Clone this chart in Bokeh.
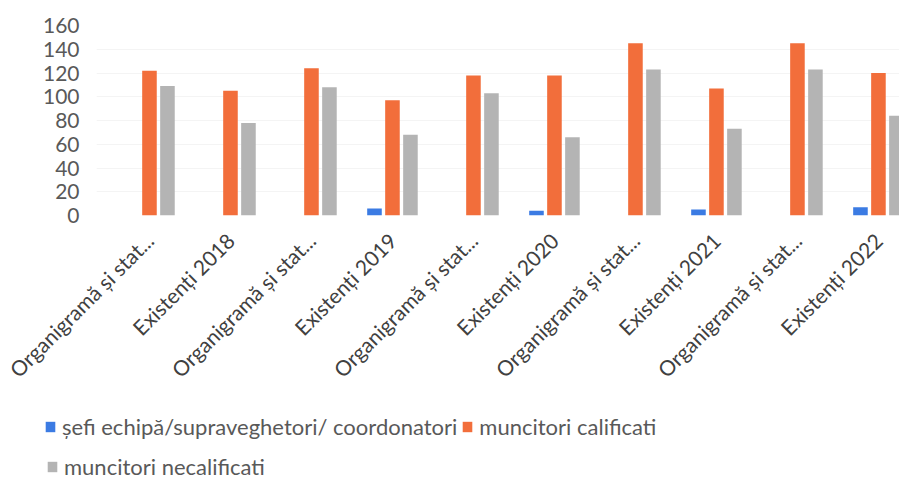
import numpy as np
from bokeh.plotting import figure
from bokeh.layouts import column
from bokeh.models import Range1d, FixedTicker, Legend, LegendItem
from bokeh.embed import file_html
from bokeh.resources import INLINE

# ---- data ----
labels = ["Organigramă și stat...", "Existenți 2018",
          "Organigramă și stat...", "Existenți 2019",
          "Organigramă și stat...", "Existenți 2020",
          "Organigramă și stat...", "Existenți 2021",
          "Organigramă și stat...", "Existenți 2022"]
sefi = [0, 0, 0, 6, 0, 4, 0, 5, 0, 7]
calificati = [122, 105, 124, 97, 118, 118, 145, 107, 145, 120]
necalificati = [109, 78, 108, 68, 103, 66, 123, 73, 123, 84]
series_names = ["șefi echipă/supraveghetori/ coordonatori",
                "muncitori calificati",
                "muncitori necalificati"]
y_ticks = [0, 20, 40, 60, 80, 100, 120, 140, 160]

colors = ["#3b7be3", "#f26e3b", "#b4b4b4"]
x = np.arange(len(labels))

p = figure(width=899, height=405, output_backend="svg", toolbar_location=None,
           x_range=Range1d(-0.654, 9.26), y_range=Range1d(0, 160),
           min_border_top=25, min_border_left=96, min_border_right=0,
           min_border_bottom=190)
p.frame_align = False

bw = 0.18
off = 0.222
p.vbar(x=x - off, top=sefi, width=bw, fill_color=colors[0], line_color=None)
p.vbar(x=x, top=calificati, width=bw, fill_color=colors[1], line_color=None)
p.vbar(x=x + off, top=necalificati, width=bw, fill_color=colors[2], line_color=None)

p.outline_line_color = None
p.xgrid.grid_line_color = None
p.ygrid.grid_line_color = "#f4f4f4"
p.ygrid.ticker = FixedTicker(ticks=y_ticks)

p.yaxis.ticker = FixedTicker(ticks=y_ticks)
p.yaxis.axis_line_color = None
p.yaxis.major_tick_line_color = None
p.yaxis.minor_tick_line_color = None
p.yaxis.major_label_standoff = 11
p.yaxis.major_label_text_font = "Lato"
p.yaxis.major_label_text_font_size = "21px"
p.yaxis.major_label_text_color = "#595959"

p.xaxis.ticker = FixedTicker(ticks=list(x))
p.xaxis.major_label_overrides = {int(i): lab for i, lab in zip(x, labels)}
p.xaxis.major_label_orientation = np.pi / 4
p.xaxis.axis_line_color = None
p.xaxis.major_tick_line_color = None
p.xaxis.minor_tick_line_color = None
p.xaxis.major_label_standoff = 15
p.xaxis.major_label_text_font = "Lato"
p.xaxis.major_label_text_font_size = "21px"
p.xaxis.major_label_text_color = "#404040"

# ---- legend strip ----
lf = figure(width=899, height=77, output_backend="svg", toolbar_location=None,
            x_range=Range1d(0, 1), y_range=Range1d(0, 1),
            x_axis_location=None, y_axis_location=None,
            min_border=0)
lf.frame_align = False
lf.outline_line_color = None
lf.xgrid.grid_line_color = None
lf.ygrid.grid_line_color = None
# swatch renderers: one bar each, placed outside the visible range
lr = [lf.vbar(x=[5], top=[1], width=0.1, fill_color=c, line_color=None) for c in colors]


def make_legend(items, loc):
    lg = Legend(items=items, orientation="horizontal", location=loc)
    lg.label_text_font = "Lato"
    lg.label_text_font_size = "22px"
    lg.label_text_color = "#595959"
    lg.glyph_width = 12
    lg.glyph_height = 13
    lg.label_standoff = 6
    lg.spacing = 4
    lg.padding = 0
    lg.margin = 0
    lg.border_line_color = None
    lg.background_fill_alpha = 0
    return lg


leg1 = make_legend([LegendItem(label=series_names[0], renderers=[lr[0]]),
                    LegendItem(label=series_names[1], renderers=[lr[1]])], (44, 42))
leg2 = make_legend([LegendItem(label=series_names[2], renderers=[lr[2]])], (46, 2))
lf.add_layout(leg1, "center")
lf.add_layout(leg2, "center")

layout = column(p, lf, spacing=0)
open("out.html", "w").write(file_html(layout, INLINE))
